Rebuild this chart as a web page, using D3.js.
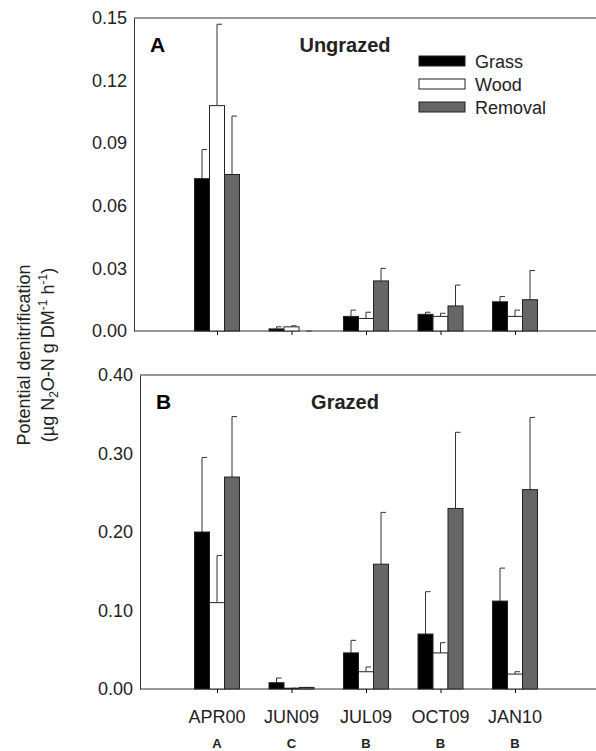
<!DOCTYPE html>
<html><head><meta charset="utf-8">
<script src="https://cdn.jsdelivr.net/npm/d3@7"></script>
<style>body{margin:0;background:#fff}text{font-family:"Liberation Sans",Arial,sans-serif}</style>
</head><body>
<script>
const dates = ["APR00", "JUN09", "JUL09", "OCT09", "JAN10"];
const letters = ["A", "C", "B", "B", "B"];
const treatments = ["Grass", "Wood", "Removal"];
const colors = { Grass: "#000", Wood: "#fff", Removal: "#666" };

// Ungrazed means and upper error limits (Grass, Wood, Removal per date)
const ungrazedMean = [[0.073, 0.108, 0.075], [0.001, 0.002, 0], [0.007, 0.006, 0.024], [0.008, 0.007, 0.012], [0.014, 0.007, 0.015]];
const ungrazedUpper = [[0.087, 0.147, 0.103], [0.002, 0.0025, 0], [0.010, 0.009, 0.030], [0.009, 0.0085, 0.022], [0.0165, 0.010, 0.029]];
// Grazed
const grazedMean = [[0.20, 0.11, 0.27], [0.008, 0.001, 0.002], [0.046, 0.022, 0.159], [0.070, 0.046, 0.230], [0.112, 0.019, 0.254]];
const grazedUpper = [[0.295, 0.170, 0.347], [0.014, 0.001, 0.002], [0.062, 0.028, 0.225], [0.124, 0.059, 0.327], [0.154, 0.022, 0.346]];

const ticksA = [0, 0.03, 0.06, 0.09, 0.12, 0.15];
const ticksB = [0, 0.1, 0.2, 0.3, 0.4];

const svg = d3.select("body").append("svg").attr("width", 596).attr("height", 751);

const x = d3.scalePoint().domain(dates).range([217, 515]);
const bw = 15;

function panel(mean, upper, ticks, top, bottom, left, tag, title, legend) {
  const y = d3.scaleLinear().domain([0, ticks[ticks.length - 1]]).range([bottom, top]);
  const g = svg.append("g");
  g.append("line").attr("x1", left).attr("x2", 596).attr("y1", top).attr("y2", top).attr("stroke", "#333");
  g.append("g").attr("transform", `translate(${left},0)`)
    .call(d3.axisLeft(y).tickValues(ticks).tickFormat(d3.format(".2f")).tickSize(0).tickPadding(7))
    .call(a => a.select(".domain").attr("stroke", "#333"))
    .call(a => a.selectAll("text").attr("font-size", 18).attr("fill", "#222").attr("font-family", "Liberation Sans, Arial"));
  const ax = g.append("g").attr("transform", `translate(0,${bottom})`)
    .call(d3.axisBottom(x).tickSize(4).tickFormat(""));
  ax.select(".domain").attr("d", `M${left},0H596`).attr("stroke", "#333");

  dates.forEach((dt, i) => {
    treatments.forEach((t, j) => {
      const cx = x(dt) + (j - 1) * bw;
      const v = mean[i][j], u = upper[i][j];
      g.append("line").attr("x1", cx).attr("x2", cx).attr("y1", y(v)).attr("y2", y(u)).attr("stroke", "#333");
      g.append("line").attr("x1", cx).attr("x2", cx + 5).attr("y1", y(u)).attr("y2", y(u)).attr("stroke", "#333");
      g.append("rect").attr("x", cx - bw / 2).attr("width", bw)
        .attr("y", y(v)).attr("height", bottom - y(v))
        .attr("fill", colors[t]).attr("stroke", "#222").attr("stroke-width", 1);
    });
  });
  g.append("text").attr("x", left + 16).attr("y", top + 34).attr("font-size", 21).attr("font-weight", "bold").text(tag);
  g.append("text").attr("x", 345).attr("y", top + 34).attr("text-anchor", "middle").attr("font-size", 20)
    .attr("font-weight", "bold").attr("font-family", "Open Sans").attr("fill", "#222").text(title);
  if (legend) {
    treatments.forEach((t, j) => {
      g.append("rect").attr("x", 419).attr("y", top + 38 + j * 23).attr("width", 46).attr("height", 10)
        .attr("fill", colors[t]).attr("stroke", "#222");
      g.append("text").attr("x", 475).attr("y", top + 50 + j * 23).attr("font-size", 18).attr("fill", "#222").text(t);
    });
  }
}

panel(ungrazedMean, ungrazedUpper, ticksA, 18, 331, 134, "A", "Ungrazed", true);
panel(grazedMean, grazedUpper, ticksB, 375, 689, 140, "B", "Grazed", false);

dates.forEach((d, i) => {
  svg.append("text").attr("x", x(d)).attr("y", 723).attr("text-anchor", "middle").attr("font-size", 18).attr("fill", "#222").text(d);
  svg.append("text").attr("x", x(d)).attr("y", 748).attr("text-anchor", "middle").attr("font-size", 13)
    .attr("font-weight", "bold").attr("font-family", "Open Sans").attr("fill", "#222").text(letters[i]);
});

const yl = svg.append("text").attr("transform", "translate(0,355) rotate(-90)").attr("text-anchor", "middle").attr("font-size", 18).attr("fill", "#222");
yl.append("tspan").attr("x", 0).attr("y", 30).text("Potential denitrification");
const l2 = yl.append("tspan").attr("x", 0).attr("y", 54);
l2.append("tspan").text("(µg N");
l2.append("tspan").attr("font-size", 12).attr("dy", 4).text("2");
l2.append("tspan").attr("dy", -4).text("O-N g DM");
l2.append("tspan").attr("font-size", 12).attr("dy", -7).text("-1");
l2.append("tspan").attr("dy", 7).text(" h");
l2.append("tspan").attr("font-size", 12).attr("dy", -7).text("-1");
l2.append("tspan").attr("dy", 7).text(")");
</script>
</body></html>
